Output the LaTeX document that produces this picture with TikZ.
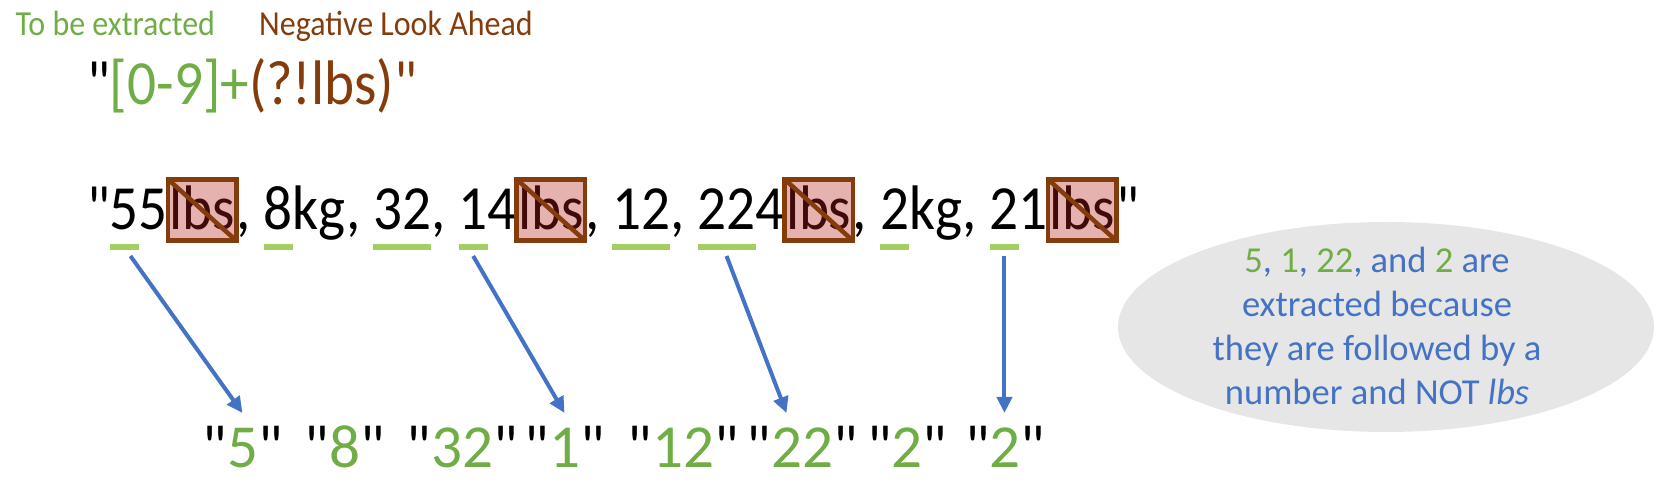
\documentclass[tikz,border=0pt]{standalone}
\usepackage{fontspec}
\setmainfont{Carlito}[Ligatures=TeXOff]
\newfontfamily\tallfont[FakeStretch=0.91,Ligatures=TeXOff]{Carlito}
\usetikzlibrary{positioning,arrows.meta}
\definecolor{grn}{RGB}{112,173,71}
\definecolor{brn}{RGB}{132,60,12}
\definecolor{ulgrn}{RGB}{163,206,97}
\definecolor{blu}{RGB}{68,114,196}
\definecolor{notegray}{RGB}{230,230,230}
\definecolor{lbsfill}{RGB}{229,178,175}
\definecolor{lbstext}{RGB}{64,10,10}

\begin{document}
\begin{tikzpicture}[
    tok_style/.style={inner sep=0pt, outer sep=0pt, font=\tallfont\fontsize{17.9}{21}\selectfont},
    lbs_style/.style={tok_style, draw=brn, fill=lbsfill, text=lbstext, line width=0.045cm,
        inner xsep=0.015cm, inner ysep=0.017cm, text height=0.49cm, text depth=0.09cm},
    cross_style/.style={draw=brn, line width=0.045cm},
    uline_style/.style={draw=ulgrn, line width=0.055cm},
    arrow_style/.style={draw=blu, line width=0.04cm, -{Triangle[length=0.16cm,width=0.15cm]}},
    res_style/.style={anchor=base west, inner sep=0pt, outer sep=0pt, font=\fontsize{17.4}{21}\selectfont},
    label_style/.style={anchor=base west, inner sep=0pt, font=\tallfont\fontsize{10}{12}\selectfont},
    note_style/.style={inner sep=0pt, align=center, text=blu, font=\fontsize{10.4}{12.5}\selectfont}]
    \useasboundingbox (0,0) rectangle (16.66,-4.92);

    % pattern with its two parts
    \node[label_style, text=grn] (ext) at (0.15,-0.36) {To be extracted};
    \node[label_style, text=brn] (nla) at (2.585,-0.36) {Negative Look Ahead};
    \node[tok_style, anchor=base west] (pat) at (0.87,-1.05)
        {"\textcolor{grn}{[0-9]+}\textcolor{brn}{(?!lbs)"}};

    % the input string
    \node[tok_style, anchor=base west] (q1) at (0.87,-2.30) {"};
    \node[tok_style, base right=0pt of q1] (m1) {5};
    \node[tok_style, base right=0pt of m1] (t1) {5};
    \node[lbs_style, base right=0pt of t1] (lb1) {lbs};
    \node[tok_style, base right=0pt of lb1] (c1) {,\ \null};
    \node[tok_style, base right=0pt of c1] (m2) {8};
    \node[tok_style, base right=0pt of m2] (t2) {kg,\ \null};
    \node[tok_style, base right=0pt of t2] (m3) {32};
    \node[tok_style, base right=0pt of m3] (t3) {,\ \null};
    \node[tok_style, base right=0pt of t3] (m4) {1};
    \node[tok_style, base right=0pt of m4] (t4) {4};
    \node[lbs_style, base right=0pt of t4] (lb2) {lbs};
    \node[tok_style, base right=0pt of lb2] (c2) {,\ \null};
    \node[tok_style, base right=0pt of c2] (m5) {12};
    \node[tok_style, base right=0pt of m5] (t5) {,\ \null};
    \node[tok_style, base right=0pt of t5] (m6) {22};
    \node[tok_style, base right=0pt of m6] (t6) {4};
    \node[lbs_style, base right=0pt of t6] (lb3) {lbs};
    \node[tok_style, base right=0pt of lb3] (c3) {,\ \null};
    \node[tok_style, base right=0pt of c3] (m7) {2};
    \node[tok_style, base right=0pt of m7] (t7) {kg,\ \null};
    \node[tok_style, base right=0pt of t7] (m8) {2};
    \node[tok_style, base right=0pt of m8] (t8) {1};
    \node[lbs_style, base right=0pt of t8] (lb4) {lbs};
    \node[tok_style, base right=0pt of lb4] (q2) {"};

    \draw[cross_style] (lb1.north west) -- (lb1.south east);
    \draw[cross_style] (lb2.north west) -- (lb2.south east);
    \draw[cross_style] (lb3.north west) -- (lb3.south east);
    \draw[cross_style] (lb4.north west) -- (lb4.south east);

    % matches
    \draw[uline_style] ([yshift=-0.17cm]m1.base west) -- ([yshift=-0.17cm]m1.base east);
    \draw[uline_style] ([yshift=-0.17cm]m2.base west) -- ([yshift=-0.17cm]m2.base east);
    \draw[uline_style] ([yshift=-0.17cm]m3.base west) -- ([yshift=-0.17cm]m3.base east);
    \draw[uline_style] ([yshift=-0.17cm]m4.base west) -- ([yshift=-0.17cm]m4.base east);
    \draw[uline_style] ([yshift=-0.17cm]m5.base west) -- ([yshift=-0.17cm]m5.base east);
    \draw[uline_style] ([yshift=-0.17cm]m6.base west) -- ([yshift=-0.17cm]m6.base east);
    \draw[uline_style] ([yshift=-0.17cm]m7.base west) -- ([yshift=-0.17cm]m7.base east);
    \draw[uline_style] ([yshift=-0.17cm]m8.base west) -- ([yshift=-0.17cm]m8.base east);

    % results
    \node[res_style] (r1) at (2.025,-4.68) {"\textcolor{grn}{5}"};
    \node[res_style] (r2) at (3.045,-4.68) {"\textcolor{grn}{8}"};
    \node[res_style] (r3) at (4.065,-4.68) {"\textcolor{grn}{32}"};
    \node[res_style] (r4) at (5.245,-4.68) {"\textcolor{grn}{1}"};
    \node[res_style] (r5) at (6.275,-4.68) {"\textcolor{grn}{12}"};
    \node[res_style] (r6) at (7.465,-4.68) {"\textcolor{grn}{22}"};
    \node[res_style] (r7) at (8.67,-4.68) {"\textcolor{grn}{2}"};
    \node[res_style] (r8) at (9.65,-4.68) {"\textcolor{grn}{2}"};

    \draw[arrow_style] ([xshift=0.06cm,yshift=-0.26cm]m1.base) -- ([xshift=0.4cm,yshift=0.55cm]r1.base west);
    \draw[arrow_style] ([yshift=-0.26cm]m4.base) -- ([xshift=0.4cm,yshift=0.55cm]r4.base west);
    \draw[arrow_style] ([yshift=-0.26cm]m6.base) -- ([xshift=0.4cm,yshift=0.55cm]r6.base west);
    \draw[arrow_style] ([yshift=-0.26cm]m8.base) -- ([yshift=0.55cm]m8.base |- r8.base);

    % explanation
    \coordinate (notec) at (13.86,-3.27);
    \fill[notegray] (notec) ellipse [x radius=2.68cm, y radius=1.05cm];
    \node[note_style] (note) at (13.77,-3.26)
        {\textcolor{grn}{5}, \textcolor{grn}{1}, \textcolor{grn}{22}, and \textcolor{grn}{2} are\\
         extracted because\\
         they are followed by a\\
         number and NOT \textit{lbs}};
\end{tikzpicture}
\end{document}
